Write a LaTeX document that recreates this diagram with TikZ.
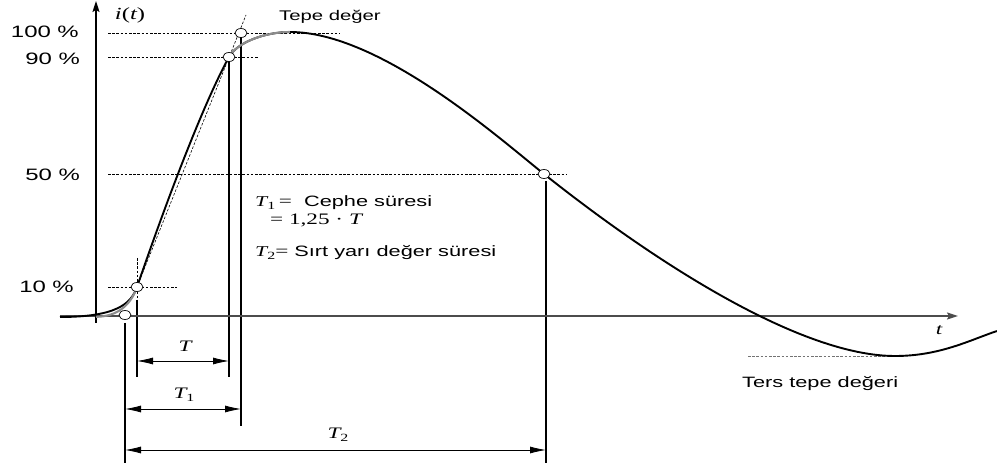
\documentclass[tikz,border=0pt]{standalone}
\usepackage{fontspec}
\setmainfont{Liberation Sans}
\newfontfamily\serf{Liberation Serif}
\usetikzlibrary{arrows.meta,shapes.geometric}
\newcommand\wt[1]{\scalebox{1.45}[1]{#1}}
\newcommand\TT[1]{{\serf\itshape T}\raisebox{-0.35ex}{\serf\fontsize{11}{11}\selectfont #1}}
\begin{document}
\begin{tikzpicture}[x=1pt,y=-1pt,
  txt/.style={inner sep=0pt, font=\fontsize{15}{15}\selectfont},
  pct/.style={inner sep=0pt, anchor=east, font=\fontsize{16.5}{16.5}\selectfont},
  dline/.style={dash pattern=on 2.6pt off 1.6pt, line width=0.6pt},
  vline/.style={line width=1.1pt},
  dimline/.style={line width=0.8pt, {Latex[length=16pt,width=7pt]}-{Latex[length=16pt,width=7pt]}},
  mk/.style={ellipse, draw, fill=white, line width=0.7pt, minimum width=12pt, minimum height=9pt, inner sep=0pt},
  axisarrow/.style={-{Stealth[length=11pt,width=7pt,inset=2pt]}}
]
\useasboundingbox (0,0) rectangle (997,470);

% coordinates
\coordinate (yb) at (96,323);
\coordinate (yt) at (96,1);
\coordinate (xl) at (60,316);
\coordinate (xr) at (958,316);

\coordinate (a100) at (108,33);  \coordinate (b100) at (340,33);
\coordinate (a90) at (108,57);   \coordinate (b90) at (258,57);
\coordinate (a50) at (108,174);  \coordinate (b50) at (567,174);
\coordinate (a10) at (108,287);  \coordinate (b10) at (177,287);
\coordinate (ia) at (133,297);   \coordinate (ib) at (246,15);
\coordinate (va) at (137,258);   \coordinate (vb) at (137,300);
\coordinate (tl) at (137,377);   \coordinate (tr) at (229,377);
\coordinate (tla) at (137,361);  \coordinate (tra) at (229,361);
\coordinate (t1top) at (125,323); \coordinate (t1l) at (125,463);
\coordinate (t1r) at (241,426);
\coordinate (t1la) at (125,409); \coordinate (t1ra) at (241,409);
\coordinate (t2top) at (546,181); \coordinate (t2r) at (546,463);
\coordinate (t2la) at (125,450); \coordinate (t2ra) at (546,450);
\coordinate (ra) at (748,356);   \coordinate (rb) at (893,356);
\coordinate (p90c) at (229,57);
\coordinate (p100c) at (241,33);

% dashed guide lines
\draw[dline] (a100) -- (b100);
\draw[dline] (a90) -- (b90);
\draw[dline] (a50) -- (b50);
\draw[dline] (a10) -- (b10);
\draw[dline] (ia) -- (ib);
\draw[dline] (va) -- (vb);
\draw[dline, draw=black!55] (ra) -- (rb);

% vertical boundaries
\draw[vline] (vb) -- (tl);
\draw[vline] (p90c) -- (tr);
\draw[vline] (t1top) -- (t1l);
\draw[vline] (p100c) -- (t1r);
\draw[line width=2pt] (t2top) -- (t2r);

% dimension arrows
\draw[dimline] (tla) -- (tra);
\draw[dimline] (t1la) -- (t1ra);
\draw[dimline] (t2la) -- (t2ra);

% axes
\draw[line width=1.6pt, draw=black!70, axisarrow] (xl) -- (xr);
\draw[line width=1.3pt, axisarrow] (yb) -- (yt);

% curve
\draw[line width=1.9pt, line join=round]
  (60,317) .. controls (115,317) and (131,304.5) .. (137,287)
  .. controls (160,220) and (200,110) .. (229,57)
  .. controls (237,42.4) and (265,32) .. (290,32)
  .. controls (380,32) and (500,139) .. (544,174)
  .. controls (654,261.5) and (800,356) .. (895,356)
  .. controls (940,356) and (970,340) .. (997,331);
\draw[line width=2.1pt, draw=black!45]
  (96,316.8) .. controls (118,316.6) and (131,304.5) .. (137,287);
\draw[line width=2.1pt, draw=black!45]
  (229,57) .. controls (237,42.4) and (265,32) .. (290,32);

% markers
\node[mk] (p0) at (125,315) {};
\node[mk] (p10) at (137,287) {};
\node[mk] (p90) at (229,57) {};
\node[mk] (p100) at (241,33) {};
\node[mk] (p50) at (544,174) {};

% labels
\node[pct] (l100) at (79,32) {\wt{100 \%}};
\node[pct] (l90) at (80,59) {\wt{90 \%}};
\node[pct] (l50) at (80,175) {\wt{50 \%}};
\node[pct] (l10) at (74,287) {\wt{10 \%}};
\node[inner sep=0pt, font=\fontsize{17}{17}\selectfont] (it) at (130,15) {\wt{{\serf\itshape i}{\serf(}{\serf\itshape t}{\serf)}}};
\node[txt, anchor=base west, font=\fontsize{14}{14}\selectfont] (tepe) at (279,21) {\wt{Tepe değer}};
\node[txt, anchor=base west] (c1) at (255,207) {\wt{\TT{1}\,{\serf\fontsize{16}{16}\selectfont =}\ \ Cephe süresi}};
\node[txt, anchor=base west] (c2) at (270,225) {\wt{{\serf\fontsize{16}{16}\selectfont = 1,25 · \itshape T}}};
\node[txt, anchor=base west] (c3) at (255,257) {\wt{\TT{2}{\serf\fontsize{16}{16}\selectfont =}\ Sırt yarı değer süresi}};
\node[txt, anchor=base west] (ters) at (742,388) {\wt{Ters tepe değeri}};
\node[inner sep=0pt, font=\fontsize{16}{16}\selectfont] (tl2) at (939,330) {\wt{\serf\itshape t}};
\node[txt, font=\fontsize{16}{16}\selectfont] (lT) at (185,346) {\wt{\serf\itshape T}};
\node[txt, font=\fontsize{16}{16}\selectfont] (lT1) at (184,395) {\wt{\TT{1}}};
\node[txt, font=\fontsize{16}{16}\selectfont] (lT2) at (338,435) {\wt{\TT{2}}};
\end{tikzpicture}
\end{document}
